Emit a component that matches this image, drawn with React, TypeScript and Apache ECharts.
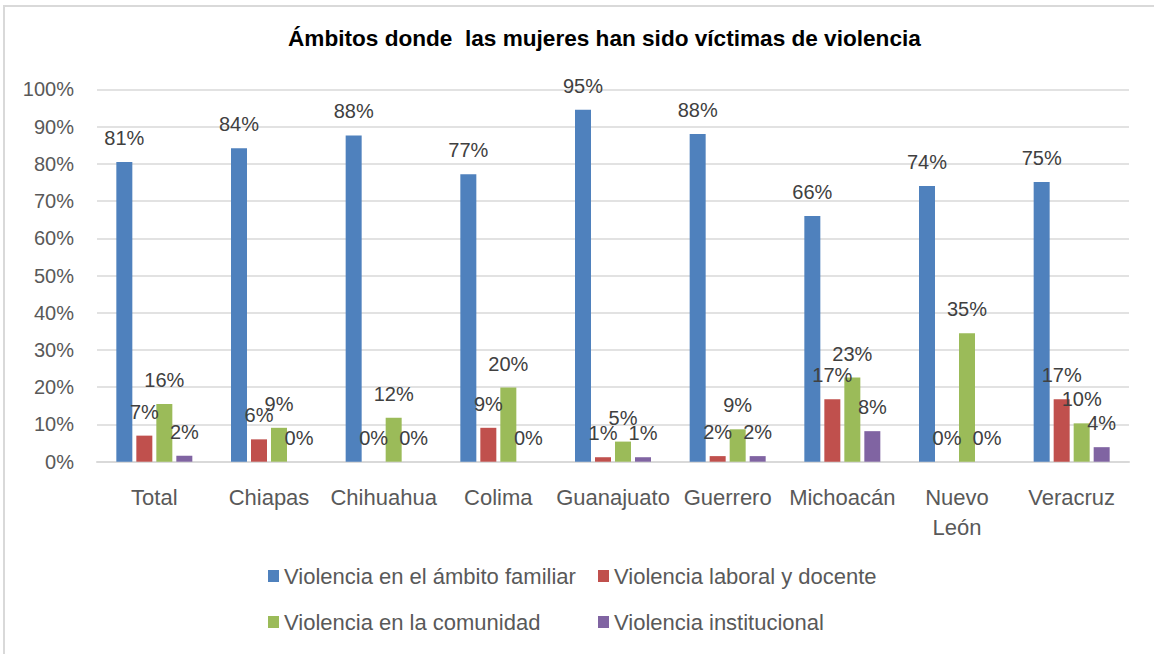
import React, { useEffect, useRef } from "react";
import * as echarts from "echarts";

const categories = ["Total", "Chiapas", "Chihuahua", "Colima", "Guanajuato", "Guerrero", "Michoacán", "Nuevo León", "Veracruz"];
const seriesNames = [
  "Violencia en el ámbito familiar",
  "Violencia laboral y docente",
  "Violencia en la comunidad",
  "Violencia institucional",
];
const familiar = [80.5, 84.2, 87.6, 77.2, 94.5, 88.0, 66.0, 74.0, 75.1];
const laboral = [7.0, 6.0, 0, 9.1, 1.2, 1.5, 16.8, 0, 16.8];
const comunidad = [15.5, 9.1, 11.8, 19.9, 5.4, 8.7, 22.6, 34.5, 10.3];
const institucional = [1.6, 0, 0, 0, 1.2, 1.5, 8.2, 0, 3.9];
const yTicks = [0, 10, 20, 30, 40, 50, 60, 70, 80, 90, 100];
const colors = ["#4F81BD", "#C0504D", "#9BBB59", "#8064A2"];

const FONT = "'Liberation Sans', Arial, sans-serif";

export default function App() {
  const ref = useRef<HTMLDivElement>(null);
  useEffect(() => {
    if (!ref.current) return;
    const chart = echarts.init(ref.current, null, { renderer: "svg" });
    const values = [familiar, laboral, comunidad, institucional];
    const legendPos = [
      { left: 268, top: 565 },
      { left: 598, top: 565 },
      { left: 268, top: 611 },
      { left: 598, top: 611 },
    ];
    chart.setOption({
      animation: false,
      textStyle: { fontFamily: FONT },
      title: {
        text: "Ámbitos donde  las mujeres han sido víctimas de violencia",
        left: 283,
        top: 22,
        textStyle: { fontFamily: FONT, fontSize: 22.6, fontWeight: "bold", color: "#000000" },
      },
      graphic: [
        {
          type: "rect",
          shape: { x: 4, y: 6, width: 1200, height: 700 },
          style: { fill: "none", stroke: "#D9D9D9", lineWidth: 2 },
          silent: true,
          z: -1,
        },
      ],
      legend: seriesNames.map((n, i) => ({
        data: [n],
        left: legendPos[i].left,
        top: legendPos[i].top,
        padding: 0,
        itemWidth: 11,
        itemHeight: 12,
        icon: "rect",
        itemGap: 0,
        textStyle: { fontFamily: FONT, fontSize: 22, color: "#595959" },
      })),
      grid: { left: 97, right: 25, top: 89.3, bottom: 192.3, containLabel: false },
      xAxis: {
        type: "category",
        data: categories,
        axisTick: { show: false },
        axisLine: { lineStyle: { color: "#D9D9D9", width: 2 } },
        axisLabel: {
          fontFamily: FONT,
          fontSize: 22,
          color: "#595959",
          margin: 21,
          lineHeight: 30,
          interval: 0,
          formatter: (v: string) => v.replace(" ", "\n"),
        },
      },
      yAxis: {
        type: "value",
        min: 0,
        max: 100,
        interval: 10,
        axisLine: { show: false },
        axisTick: { show: false },
        splitLine: { lineStyle: { color: "#D9D9D9", width: 1.5 } },
        axisLabel: {
          fontFamily: FONT,
          fontSize: 20,
          color: "#595959",
          margin: 23,
          formatter: (v: number) => (yTicks.includes(v) ? v + "%" : ""),
        },
      },
      series: seriesNames.map((n, i) => ({
        name: n,
        type: "bar",
        data: values[i],
        barWidth: 16,
        barGap: "25%",
        itemStyle: { color: colors[i] },
        label: {
          show: true,
          position: "top",
          distance: 14,
          fontFamily: FONT,
          fontSize: 20,
          color: "#404040",
          formatter: (p: any) => Math.round(p.value) + "%",
        },
      })),
    });
    return () => chart.dispose();
  }, []);
  return (
    <div
      ref={ref}
      style={{ position: "fixed", left: 0, top: 0, width: 1154, height: 654, background: "#ffffff" }}
    />
  );
}
